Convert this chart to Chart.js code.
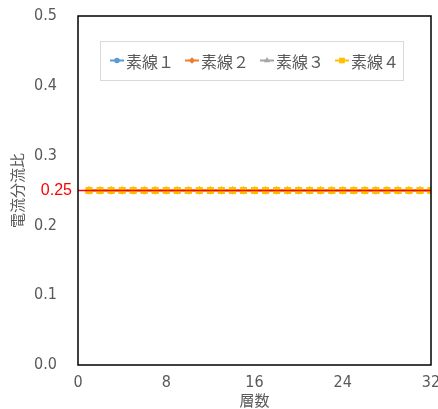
<!DOCTYPE html>
<html>
<head>
<meta charset="utf-8">
<script src="https://cdn.jsdelivr.net/npm/chart.js@4"></script>
<style>
  html, body { margin: 0; padding: 0; background: #fff; }
  #wrap { width: 438px; height: 409px; }
</style>
</head>
<body>
<div id="wrap"><canvas id="c" width="438" height="409"></canvas></div>
<script>
// 層数 (layer number)
const layers = [1, 2, 3, 4, 5, 6, 7, 8, 9, 10, 11, 12, 13, 14, 15, 16,
    17, 18, 19, 20, 21, 22, 23, 24, 25, 26, 27, 28, 29, 30, 31, 32];

// 電流分流比 per strand
const wire1 = [0.25, 0.25, 0.25, 0.25, 0.25, 0.25, 0.25, 0.25, 0.25, 0.25, 0.25, 0.25, 0.25, 0.25, 0.25, 0.25,
    0.25, 0.25, 0.25, 0.25, 0.25, 0.25, 0.25, 0.25, 0.25, 0.25, 0.25, 0.25, 0.25, 0.25, 0.25, 0.25];
const wire2 = [0.25, 0.25, 0.25, 0.25, 0.25, 0.25, 0.25, 0.25, 0.25, 0.25, 0.25, 0.25, 0.25, 0.25, 0.25, 0.25,
    0.25, 0.25, 0.25, 0.25, 0.25, 0.25, 0.25, 0.25, 0.25, 0.25, 0.25, 0.25, 0.25, 0.25, 0.25, 0.25];
const wire3 = [0.25, 0.25, 0.25, 0.25, 0.25, 0.25, 0.25, 0.25, 0.25, 0.25, 0.25, 0.25, 0.25, 0.25, 0.25, 0.25,
    0.25, 0.25, 0.25, 0.25, 0.25, 0.25, 0.25, 0.25, 0.25, 0.25, 0.25, 0.25, 0.25, 0.25, 0.25, 0.25];
const wire4 = [0.25, 0.25, 0.25, 0.25, 0.25, 0.25, 0.25, 0.25, 0.25, 0.25, 0.25, 0.25, 0.25, 0.25, 0.25, 0.25,
    0.25, 0.25, 0.25, 0.25, 0.25, 0.25, 0.25, 0.25, 0.25, 0.25, 0.25, 0.25, 0.25, 0.25, 0.25, 0.25];

const seriesNames = ['素線１', '素線２', '素線３', '素線４'];

// reference line (ideal split 1/4)
const refX = [0, 32];
const refY = [0.25, 0.25];
const refLabel = '0.25';

const xTicks = [0, 8, 16, 24, 32];
const yTicks = [0, 0.1, 0.2, 0.3, 0.4, 0.5];

const gray = '#595959';
const tickFont = { family: "'Liberation Sans Narrow', 'DejaVu Sans Condensed', sans-serif", size: 16 };
const cjkFont = "'Noto Sans CJK JP', sans-serif";

const styles = [
    { color: '#5B9BD5', point: 'circle', r: 3.5 },
    { color: '#ED7D31', point: 'rectRot', r: 4 },
    { color: '#A5A5A5', point: 'triangle', r: 4.5 },
    { color: '#FFC000', point: 'rect', r: 5 }
];

const toPts = (xs, ys) => xs.map((x, i) => ({ x: x, y: ys[i] }));
const wires = [wire1, wire2, wire3, wire4];

const datasets = wires.map((w, i) => ({
    label: seriesNames[i],
    data: toPts(layers, w),
    borderColor: styles[i].color,
    backgroundColor: styles[i].color,
    borderWidth: 2,
    pointStyle: styles[i].point,
    pointRadius: styles[i].r,
    pointBorderWidth: 0,
    order: 4 - i
}));
datasets.push({
    label: 'ref',
    data: toPts(refX, refY),
    borderColor: '#FF0000',
    borderWidth: 1.5,
    pointRadius: 0,
    order: 0
});

// frame around plot, red label and in-plot legend
const extras = {
    id: 'extras',
    afterDraw(chart) {
        const ctx = chart.ctx;
        const a = chart.chartArea;
        ctx.save();
        ctx.strokeStyle = '#000';
        ctx.lineWidth = 1.5;
        ctx.strokeRect(a.left, a.top, a.right - a.left, a.bottom - a.top);

        // red 0.25 label
        const yPix = chart.scales.y.getPixelForValue(refY[0]);
        ctx.fillStyle = '#FF0000';
        ctx.font = "16px 'Liberation Sans', sans-serif";
        ctx.textAlign = 'right';
        ctx.textBaseline = 'middle';
        ctx.fillText(refLabel, a.left - 6, yPix);

        // legend box
        const bx = a.left + 22, by = a.top + 25, bw = 303, bh = 39;
        ctx.fillStyle = '#fff';
        ctx.fillRect(bx, by, bw, bh);
        ctx.strokeStyle = '#D9D9D9';
        ctx.lineWidth = 1;
        ctx.strokeRect(bx + 0.5, by + 0.5, bw, bh);

        ctx.font = '16px ' + cjkFont;
        ctx.textAlign = 'left';
        let x = bx + 10;
        const cy = by + bh / 2;
        seriesNames.forEach((name, i) => {
            const st = styles[i];
            ctx.strokeStyle = st.color;
            ctx.lineWidth = 2;
            ctx.beginPath();
            ctx.moveTo(x, cy);
            ctx.lineTo(x + 14, cy);
            ctx.stroke();
            ctx.fillStyle = st.color;
            Chart.helpers.drawPoint(ctx, { pointStyle: st.point, radius: st.r * 0.8, rotation: 0, borderWidth: 0 }, x + 7, cy);
            ctx.fillStyle = gray;
            ctx.fillText(name, x + 16, cy + 1);
            x += 16 + ctx.measureText(name).width + 11;
        });
        ctx.restore();
    }
};

new Chart(document.getElementById('c'), {
    type: 'line',
    data: { datasets: datasets },
    options: {
        responsive: false,
        animation: false,
        layout: { padding: { top: 16, right: 7, left: 0, bottom: 0 } },
        plugins: {
            legend: { display: false },
            tooltip: { enabled: false }
        },
        scales: {
            x: {
                type: 'linear',
                min: 0,
                max: 32,
                afterBuildTicks: (s) => { s.ticks = xTicks.map(v => ({ value: v })); },
                afterFit: (s) => { s.height = 44; s.paddingLeft = 0; s.paddingRight = 0; },
                grid: { display: false, drawTicks: false },
                border: { display: false },
                ticks: { color: gray, font: tickFont, padding: 8, maxRotation: 0 },
                title: { display: true, text: '層数', color: gray, font: { family: cjkFont, size: 15 }, padding: { top: 0, bottom: 0 } }
            },
            y: {
                min: 0,
                max: 0.5,
                afterBuildTicks: (s) => { s.ticks = yTicks.map(v => ({ value: v })); },
                afterFit: (s) => { s.width = 78; s.paddingTop = 0; s.paddingBottom = 0; },
                grid: { display: false, drawTicks: false },
                border: { display: false },
                ticks: { color: gray, font: tickFont, padding: 21, callback: (v) => v.toFixed(1) },
                title: { display: true, text: '電流分流比', color: gray, font: { family: cjkFont, size: 15 }, padding: { top: 8, bottom: 0 } }
            }
        }
    },
    plugins: [extras]
});
</script>
</body>
</html>
